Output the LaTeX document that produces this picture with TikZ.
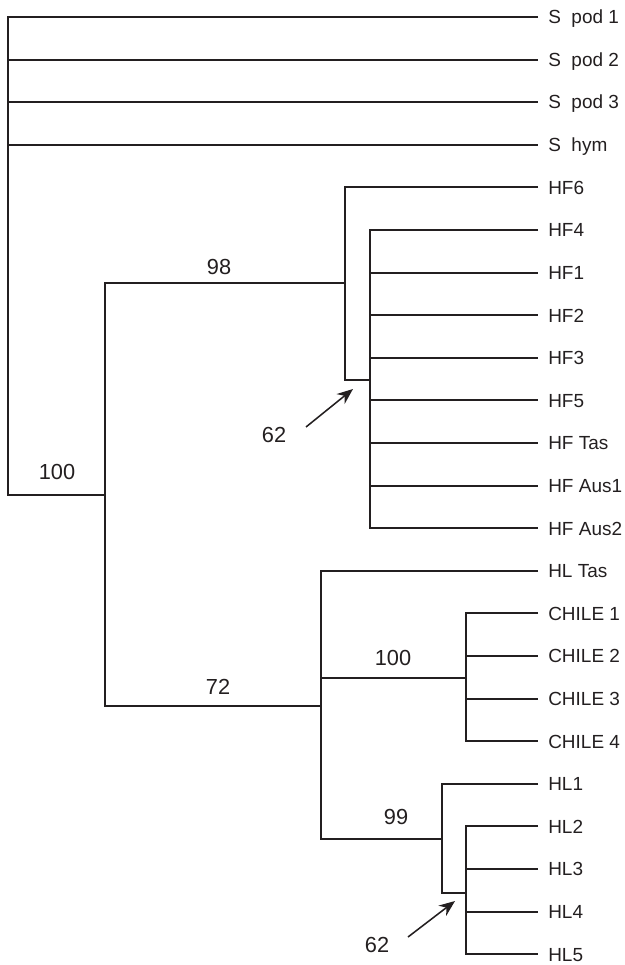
\documentclass[tikz,border=0pt]{standalone}
\usepackage{fontspec}
\setmainfont{Liberation Sans}
\usepackage{tikz}
\usetikzlibrary{arrows.meta}
\definecolor{treeink}{RGB}{35,31,32}

\begin{document}
\begin{tikzpicture}[x=0.25mm, y=-0.25mm,
  branch/.style={draw=treeink, line width=1.45pt},
  leaf/.style={anchor=west, inner xsep=2.5mm, inner ysep=0pt,
    text height=3.4mm, text depth=0pt, text=treeink,
    font=\fontsize{13.5}{16}\selectfont},
  support/.style={text=treeink, font=\fontsize{15.5}{18}\selectfont},
  pointer/.style={draw=treeink, line width=1.1pt,
    -{Stealth[length=4mm, width=3.2mm]}}]
  \useasboundingbox (0,0) rectangle (624,965);

  % taxa
  \foreach \nm/\lab [count=\i from 0] in {
      spodA/{S\ \ pod 1}, spodB/{S\ \ pod 2}, spodC/{S\ \ pod 3}, shym/{S\ \ hym},
      HFsix/HF6, HFfour/HF4, HFone/HF1, HFtwo/HF2, HFthree/HF3, HFfive/HF5,
      HFtas/{HF Tas}, HFausA/{HF Aus1}, HFausB/{HF Aus2},
      HLtas/{HL Tas}, chileA/{CHILE 1}, chileB/{CHILE 2}, chileC/{CHILE 3}, chileD/{CHILE 4},
      HLone/HL1, HLtwo/HL2, HLthree/HL3, HLfour/HL4, HLfive/HL5}
    \node[leaf] (\nm) at (538, {17+42.6*\i}) {\lab};

  % internal nodes
  \coordinate (root) at (8,495);
  \coordinate (nA) at (105,495);
  \coordinate (nHF) at (345,283);
  \coordinate (nHFin) at (370,380);
  \coordinate (nHL) at (321,706);
  \coordinate (nCH) at (466,678);
  \coordinate (nHLsub) at (442,839);
  \coordinate (nHLin) at (466,893);

  % root
  \draw[branch] (spodA.west) -| (root) -- (nA);
  \foreach \nm in {spodB, spodC, shym}
    \draw[branch] (root |- \nm.west) -- (\nm.west);
  \draw[branch] (nHF) -| (nA) |- (nHL);

  % HF clade
  \draw[branch] (HFsix.west) -| (nHF) |- (nHFin);
  \draw[branch] (HFfour.west) -| (nHFin) |- (HFausB.west);
  \foreach \nm in {HFone, HFtwo, HFthree, HFfive, HFtas, HFausA}
    \draw[branch] (nHFin |- \nm.west) -- (\nm.west);

  % HL clade
  \draw[branch] (HLtas.west) -| (nHL) |- (nHLsub);
  \draw[branch] (nHL |- nCH) -- (nCH);
  \draw[branch] (chileA.west) -| (nCH) |- (chileD.west);
  \foreach \nm in {chileB, chileC}
    \draw[branch] (nCH |- \nm.west) -- (\nm.west);
  \draw[branch] (HLone.west) -| (nHLsub) |- (nHLin);
  \draw[branch] (HLtwo.west) -| (nHLin) |- (HLfive.west);
  \foreach \nm in {HLthree, HLfour}
    \draw[branch] (nHLin |- \nm.west) -- (\nm.west);

  % bootstrap values
  \node[support] (bsRoot) at (57,472) {100};
  \node[support] (bsHF) at (219,267) {98};
  \node[support] (bsHL) at (218,687) {72};
  \node[support] (bsCH) at (393,658) {100};
  \node[support] (bsSub) at (396,817) {99};
  \node[support] (bsHFin) at (274,435) {62};
  \node[support] (bsHLin) at (377,945) {62};

  \coordinate (tailHF) at (306,427);
  \coordinate (tipHF) at (353,389);
  \coordinate (tailHL) at (408,937);
  \coordinate (tipHL) at (455,901);
  \draw[pointer] (tailHF) -- (tipHF);
  \draw[pointer] (tailHL) -- (tipHL);
\end{tikzpicture}
\end{document}
